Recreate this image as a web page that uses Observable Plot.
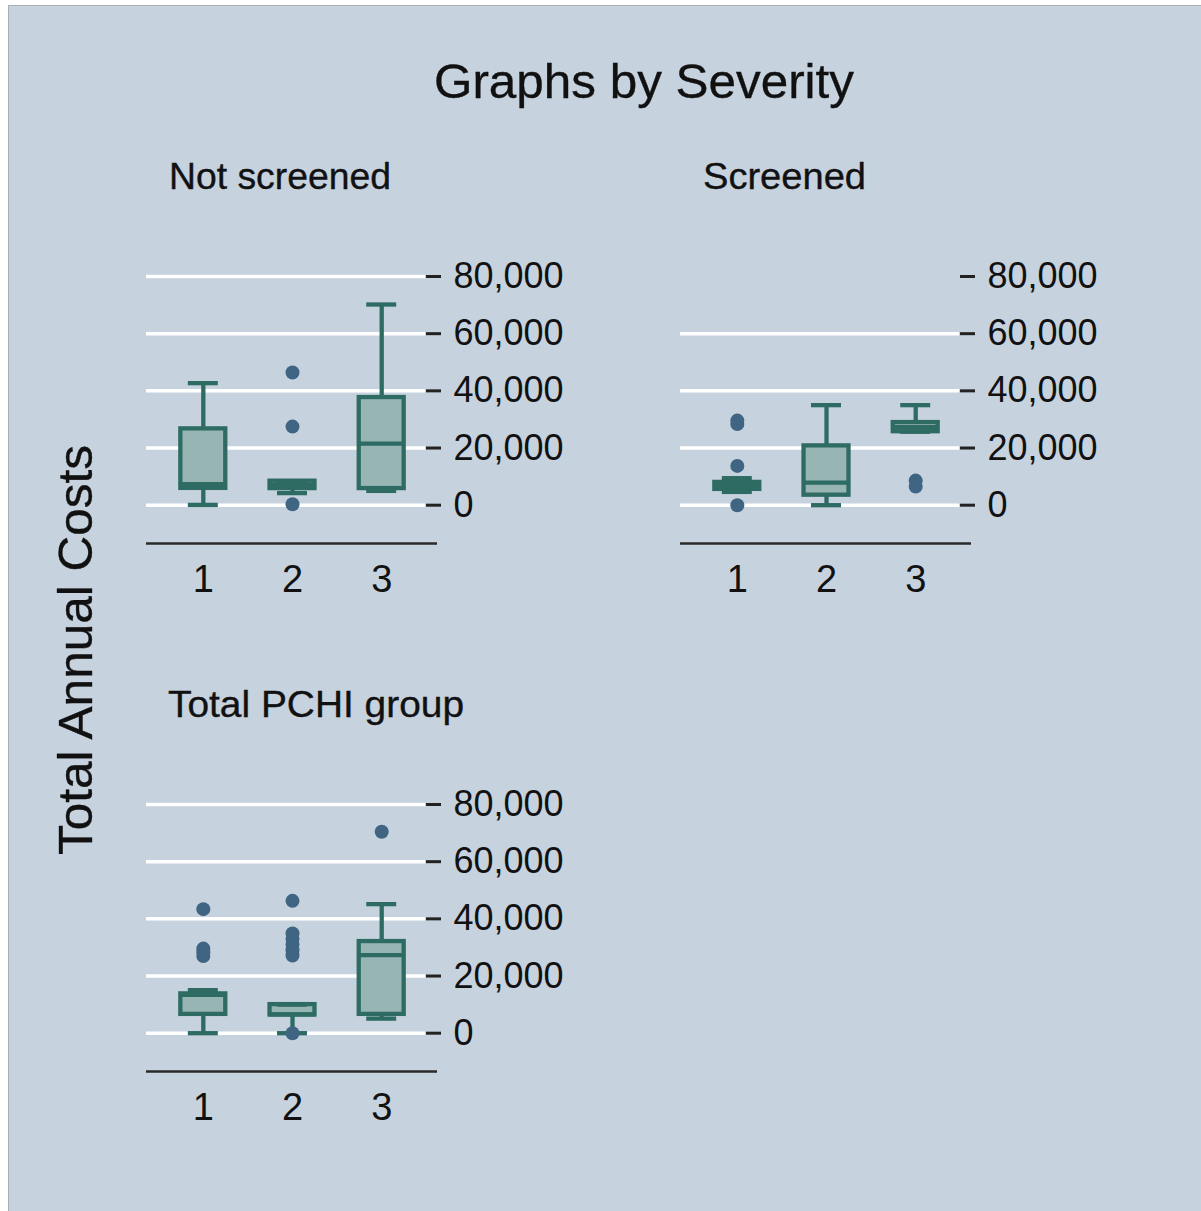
<!DOCTYPE html>
<html>
<head>
<meta charset="utf-8">
<script src="https://cdn.jsdelivr.net/npm/d3@7"></script>
<script src="https://cdn.jsdelivr.net/npm/@observablehq/plot@0.6"></script>
<style>
  html, body { margin: 0; padding: 0; background: #ffffff; }
  #stage { position: relative; width: 1201px; height: 1211px; overflow: hidden; background: #ffffff; }
  #bg { position: absolute; left: 8px; top: 5px; right: -2px; bottom: -2px; background: #c6d2de;
        border-left: 1.5px solid #a9b0b8; border-top: 1.5px solid #a9b0b8; }
  .panel { position: absolute; }
  #labels { position: absolute; left: 0; top: 0; pointer-events: none; }
</style>
</head>
<body>
<div id="stage"><div id="bg"></div></div>
<script>
// Severity categories on the x axis
const severity = [1, 2, 3];
const yTicks = [0, 20000, 40000, 60000, 80000];

// Not screened: box-plot summaries per severity (lower whisker, Q1, median, Q3, upper whisker)
const nsLower  = [100, 4230, 5000];
const nsQ1     = [5880, 5800, 5810];
const nsMedian = [7400, 7100, 21560];
const nsQ3     = [26700, 8400, 37660];
const nsUpper  = [42700, 8400, 70200];
const nsOutSeverity = [2, 2, 2];
const nsOutCost     = [350, 27500, 46400];

// Screened
const scLower  = [4650, 0, 25700];
const scQ1     = [5530, 3500, 25700];
const scMedian = [6800, 7900, 27300];
const scQ3     = [7980, 20750, 28900];
const scUpper  = [9450, 35000, 35000];
const scOutSeverity = [1, 1, 1, 1, 3, 3];
const scOutCost     = [0, 13750, 28400, 29600, 8600, 6500];

// Total PCHI group
const pcLower  = [0, 0, 5100];
const pcQ1     = [6580, 6350, 6580];
const pcMedian = [13400, 6600, 27300];
const pcQ3     = [13750, 10000, 32060];
const pcUpper  = [15050, 10000, 45150];
const pcOutSeverity = [1, 1, 1, 1, 2, 2, 2, 2, 2, 2, 2, 3];
const pcOutCost     = [43400, 29600, 28300, 27000, 0, 46300, 34900, 33000, 31000, 29000, 27200, 70450];

const font = "'Liberation Sans', Arial, Helvetica, sans-serif";
const boxStroke = "#2d6b63";
const boxFill = "#97b5b3";
const dotFill = "#3f6583";

// geometry of one panel
const M = {left: 10, right: 150, top: 20, bottom: 70};
const frameW = 279, frameH = 267;
const xDomain = [0.363, 3.491];
const yDomain = [-13400, 80000];
const boxHalf = 0.252, capHalf = 0.168;
const lw = 4.3;

function rowsOf(lo, q1, med, q3, hi) {
  return severity.map((s, i) => ({s, lo: lo[i], q1: q1[i], med: med[i], q3: q3[i], hi: hi[i]}));
}
function pointsOf(sev, cost) {
  return sev.map((s, i) => ({s, v: cost[i]}));
}

function panel(rows, points, gridTicks) {
  return Plot.plot({
    width: M.left + frameW + M.right,
    height: M.top + frameH + M.bottom,
    marginLeft: M.left, marginRight: M.right, marginTop: M.top, marginBottom: M.bottom,
    style: {background: "transparent", fontFamily: font, color: "#111", overflow: "visible"},
    x: {type: "linear", domain: xDomain, axis: null},
    y: {type: "linear", domain: yDomain, axis: null},
    marks: [
      Plot.ruleY(gridTicks, {stroke: "#ffffff", strokeWidth: 3.5}),
      Plot.ruleY([yDomain[0]], {stroke: "#2a2a2a", strokeWidth: 2.5, insetRight: -12}),
      Plot.axisY(yTicks, {anchor: "right", label: null, tickSize: 15, tickPadding: 13, tickFormat: d3.format(","),
                          fontSize: 36, strokeWidth: 3, stroke: "#222", fill: "#111"}),
      Plot.axisX(severity, {anchor: "bottom", label: null, tickSize: 0, tickPadding: 22, tickFormat: d => String(d),
                            fontSize: 38, fill: "#111"}),
      // whiskers
      Plot.ruleX(rows, {x: "s", y1: "lo", y2: "hi", stroke: boxStroke, strokeWidth: lw}),
      // boxes
      Plot.rect(rows, {x1: d => d.s - boxHalf, x2: d => d.s + boxHalf, y1: "q1", y2: "q3",
                       fill: boxFill, stroke: boxStroke, strokeWidth: lw}),
      // medians
      Plot.ruleY(rows, {y: "med", x1: d => d.s - boxHalf, x2: d => d.s + boxHalf, stroke: boxStroke, strokeWidth: lw}),
      // whisker caps
      Plot.ruleY(rows, {y: "lo", x1: d => d.s - capHalf, x2: d => d.s + capHalf, stroke: boxStroke, strokeWidth: lw}),
      Plot.ruleY(rows, {y: "hi", x1: d => d.s - capHalf, x2: d => d.s + capHalf, stroke: boxStroke, strokeWidth: lw}),
      // outside values
      Plot.dot(points, {x: "s", y: "v", r: 7, fill: dotFill, stroke: "none"})
    ]
  });
}

const stage = document.getElementById("stage");
function place(node, left, top) {
  node.classList.add("panel");
  node.style.left = left + "px";
  node.style.top = top + "px";
  stage.appendChild(node);
}

const gridAll = [0, 20000, 40000, 60000, 80000];
const gridNoTop = [0, 20000, 40000, 60000];

place(panel(rowsOf(nsLower, nsQ1, nsMedian, nsQ3, nsUpper), pointsOf(nsOutSeverity, nsOutCost), gridAll), 136, 255.7);
place(panel(rowsOf(scLower, scQ1, scMedian, scQ3, scUpper), pointsOf(scOutSeverity, scOutCost), gridNoTop), 670, 255.7);
place(panel(rowsOf(pcLower, pcQ1, pcMedian, pcQ3, pcUpper), pointsOf(pcOutSeverity, pcOutCost), gridAll), 136, 783.7);

// titles
const svg = d3.select(stage).append("svg")
  .attr("id", "labels").attr("width", 1201).attr("height", 1211)
  .style("font-family", font).style("fill", "#111");

function label(x, y, size, len, text) {
  return svg.append("text").attr("x", x).attr("y", y).attr("font-size", size)
    .attr("textLength", len).attr("lengthAdjust", "spacingAndGlyphs")
    .attr("stroke", "#111").attr("stroke-width", 0.35).text(text);
}
label(434, 98, 48, 420, "Graphs by Severity");
label(169, 188.5, 37, 222, "Not screened");
label(703, 188.5, 37, 163, "Screened");
label(168, 716.7, 37, 296, "Total PCHI group");
svg.append("text").attr("transform", "translate(92,650) rotate(-90)").attr("text-anchor", "middle")
  .attr("font-size", 49).attr("textLength", 410).attr("lengthAdjust", "spacingAndGlyphs")
  .attr("stroke", "#111").attr("stroke-width", 0.35).text("Total Annual Costs");
</script>
</body>
</html>
